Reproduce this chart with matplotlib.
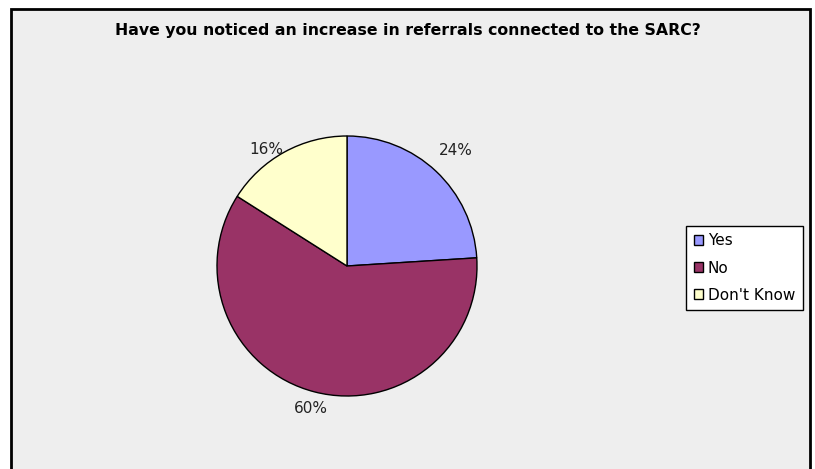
import matplotlib.pyplot as plt
import numpy as np
from matplotlib.patches import Rectangle

labels = ["Yes", "No", "Don't Know"]
shares = [24, 60, 16]
colors = ["#9999FF", "#993366", "#FFFFCC"]

W, H = 815, 469
fig = plt.figure(figsize=(W / 100, H / 100), dpi=100)
fig.patch.set_facecolor("white")

# chart area with dark border (bottom edge runs off the page)
fig.add_artist(Rectangle((11 / W, -0.05), 799 / W, 1.05 - 9 / H,
                         transform=fig.transFigure, facecolor="#EEEEEE",
                         edgecolor="black", linewidth=2, zorder=-10))

fig.text(408 / W, 1 - 30 / H, "Have you noticed an increase in referrals connected to the SARC?",
         ha="center", va="center", fontsize=11.3, fontweight="bold")

cx, cy, r = 347, 266, 130
ax = fig.add_axes([(cx - r) / W, 1 - (cy + r) / H, 2 * r / W, 2 * r / H])
ax.patch.set_visible(False)
wedges, texts = ax.pie(
    shares, colors=colors, startangle=90, counterclock=False, radius=1,
    wedgeprops=dict(edgecolor="black", linewidth=1))
ax.set_xlim(-1, 1)
ax.set_ylim(-1, 1)
ax.set_aspect("equal")
ax.axis("off")

# percentage labels just outside each slice
dist = [1.22, 1.13, 1.02]
align = ["center", "center", "right"]
for w, s, d, ha in zip(wedges, shares, dist, align):
    mid = np.deg2rad((w.theta1 + w.theta2) / 2)
    ax.text(d * np.cos(mid), d * np.sin(mid), f"{s}%", ha=ha, va="center",
            fontsize=11, color="#222222", clip_on=False)

leg = fig.legend(wedges, labels, loc="center", bbox_to_anchor=(744.5 / W, 1 - 268 / H),
                 fontsize=11, frameon=True, fancybox=False, edgecolor="black",
                 handlelength=0.6, handleheight=0.6, handletextpad=0.3,
                 labelspacing=0.8, borderpad=0.5, borderaxespad=0)
leg.get_frame().set_linewidth(1)
leg.get_frame().set_facecolor("white")
leg.get_frame().set_alpha(1)
for h in leg.legend_handles:
    h.set_edgecolor("black")
    h.set_linewidth(1)

fig.savefig("out.png", dpi=100)
